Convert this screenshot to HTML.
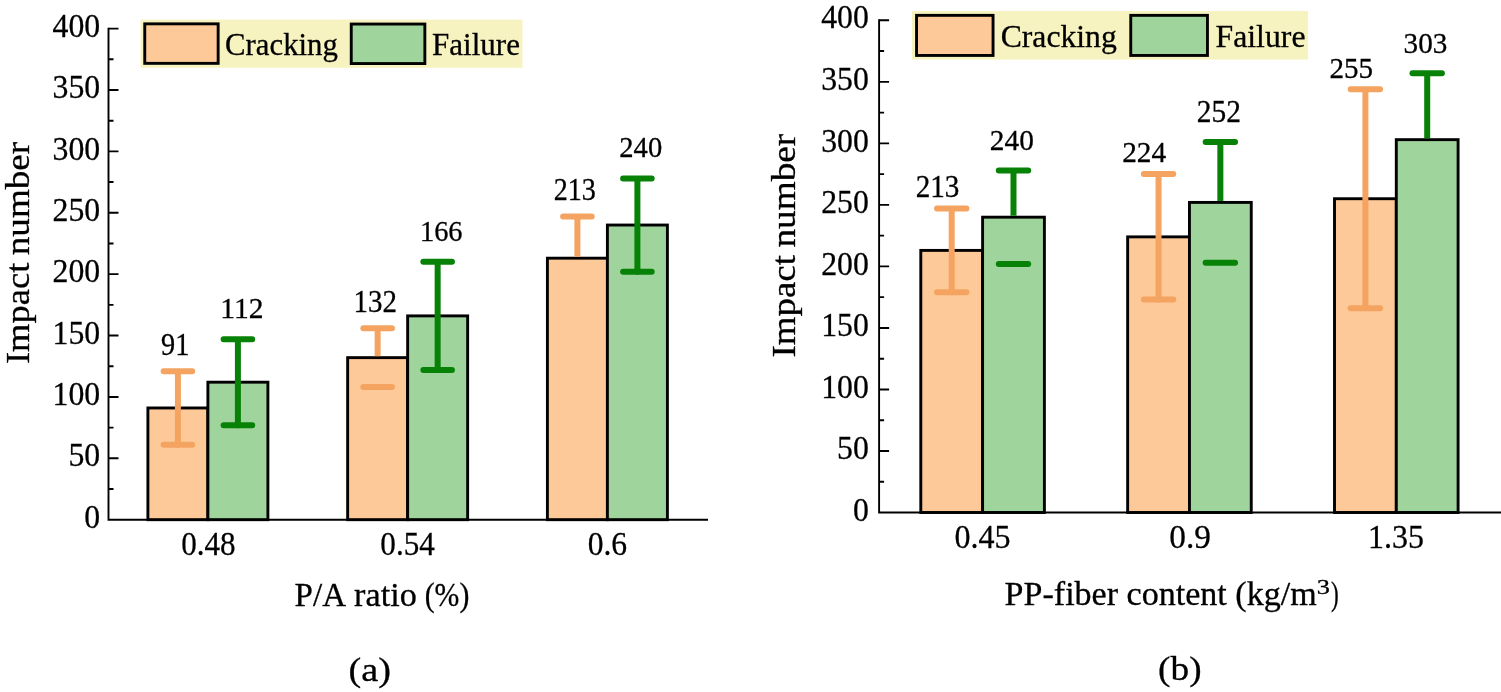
<!DOCTYPE html>
<html><head><meta charset="utf-8"><title>Impact number charts</title>
<style>
html,body{margin:0;padding:0;background:#fff;}
body{width:1501px;height:692px;overflow:hidden;}
svg{display:block;}
text{font-family:"Liberation Serif",serif;fill:#000;white-space:pre;stroke:#000;stroke-width:0.3px;}
</style></head><body>
<svg width="1501" height="692" viewBox="0 0 1501 692">
<rect width="1501" height="692" fill="#fff"/>
<rect x="147.90" y="407.97" width="60.00" height="111.73" fill="#FDC998" stroke="#000" stroke-width="2.9"/>
<path d="M163.60 371.14H192.20M177.90 371.14V444.81" stroke="#F4A460" stroke-width="6.0" stroke-linecap="round" fill="none"/>
<path d="M163.60 444.81H192.20" stroke="#F4A460" stroke-width="6.0" stroke-linecap="round" fill="none"/>
<rect x="207.90" y="382.19" width="60.00" height="137.51" fill="#9FD59D" stroke="#000" stroke-width="2.9"/>
<path d="M223.60 339.22H252.20M237.90 339.22V425.16" stroke="#078207" stroke-width="6.0" stroke-linecap="round" fill="none"/>
<path d="M223.60 425.16H252.20" stroke="#078207" stroke-width="6.0" stroke-linecap="round" fill="none"/>
<rect x="347.65" y="357.64" width="60.00" height="162.06" fill="#FDC998" stroke="#000" stroke-width="2.9"/>
<path d="M377.65 328.17V356.19" stroke="#F4A460" stroke-width="6.0" stroke-linecap="butt" fill="none"/><path d="M363.35 328.17H391.95" stroke="#F4A460" stroke-width="6.0" stroke-linecap="round" fill="none"/>
<path d="M363.35 387.10H391.95" stroke="#F4A460" stroke-width="6.0" stroke-linecap="round" fill="none"/>
<rect x="407.65" y="315.89" width="60.00" height="203.81" fill="#9FD59D" stroke="#000" stroke-width="2.9"/>
<path d="M423.35 261.87H451.95M437.65 261.87V369.91" stroke="#078207" stroke-width="6.0" stroke-linecap="round" fill="none"/>
<path d="M423.35 369.91H451.95" stroke="#078207" stroke-width="6.0" stroke-linecap="round" fill="none"/>
<rect x="547.40" y="258.19" width="60.00" height="261.51" fill="#FDC998" stroke="#000" stroke-width="2.9"/>
<path d="M577.40 216.45V256.74" stroke="#F4A460" stroke-width="6.0" stroke-linecap="butt" fill="none"/><path d="M563.10 216.45H591.70" stroke="#F4A460" stroke-width="6.0" stroke-linecap="round" fill="none"/>
<rect x="607.40" y="225.04" width="60.00" height="294.66" fill="#9FD59D" stroke="#000" stroke-width="2.9"/>
<path d="M623.10 178.39H651.70M637.40 178.39V271.69" stroke="#078207" stroke-width="6.0" stroke-linecap="round" fill="none"/>
<path d="M623.10 271.69H651.70" stroke="#078207" stroke-width="6.0" stroke-linecap="round" fill="none"/>
<path d="M108.50 27.65V519.70H708.00" stroke="#000" stroke-width="1.9" fill="none" stroke-linejoin="miter"/>
<path d="M108.50 489.01h5M108.50 458.31h10M108.50 427.62h5M108.50 396.93h10M108.50 366.23h5M108.50 335.54h10M108.50 304.84h5M108.50 274.15h10M108.50 243.46h5M108.50 212.76h10M108.50 182.07h5M108.50 151.38h10M108.50 120.68h5M108.50 89.99h10M108.50 59.29h5M108.50 28.60h10" stroke="#000" stroke-width="1.9" fill="none"/>
<rect x="920.80" y="250.40" width="61.80" height="262.10" fill="#FDC998" stroke="#000" stroke-width="2.9"/>
<path d="M937.00 208.57H966.40M951.70 208.57V292.24" stroke="#F4A460" stroke-width="6.0" stroke-linecap="round" fill="none"/>
<path d="M937.00 292.24H966.40" stroke="#F4A460" stroke-width="6.0" stroke-linecap="round" fill="none"/>
<rect x="982.60" y="217.18" width="61.80" height="295.32" fill="#9FD59D" stroke="#000" stroke-width="2.9"/>
<path d="M1013.50 170.42V215.73" stroke="#078207" stroke-width="6.0" stroke-linecap="butt" fill="none"/><path d="M998.80 170.42H1028.20" stroke="#078207" stroke-width="6.0" stroke-linecap="round" fill="none"/>
<path d="M998.80 263.94H1028.20" stroke="#078207" stroke-width="6.0" stroke-linecap="round" fill="none"/>
<rect x="1127.65" y="236.87" width="61.80" height="275.63" fill="#FDC998" stroke="#000" stroke-width="2.9"/>
<path d="M1143.85 174.11H1173.25M1158.55 174.11V299.62" stroke="#F4A460" stroke-width="6.0" stroke-linecap="round" fill="none"/>
<path d="M1143.85 299.62H1173.25" stroke="#F4A460" stroke-width="6.0" stroke-linecap="round" fill="none"/>
<rect x="1189.45" y="202.41" width="61.80" height="310.09" fill="#9FD59D" stroke="#000" stroke-width="2.9"/>
<path d="M1220.35 142.12V200.96" stroke="#078207" stroke-width="6.0" stroke-linecap="butt" fill="none"/><path d="M1205.65 142.12H1235.05" stroke="#078207" stroke-width="6.0" stroke-linecap="round" fill="none"/>
<path d="M1205.65 262.71H1235.05" stroke="#078207" stroke-width="6.0" stroke-linecap="round" fill="none"/>
<rect x="1334.50" y="198.72" width="61.80" height="313.78" fill="#FDC998" stroke="#000" stroke-width="2.9"/>
<path d="M1350.70 89.21H1380.10M1365.40 89.21V308.24" stroke="#F4A460" stroke-width="6.0" stroke-linecap="round" fill="none"/>
<path d="M1350.70 308.24H1380.10" stroke="#F4A460" stroke-width="6.0" stroke-linecap="round" fill="none"/>
<rect x="1396.30" y="139.66" width="61.80" height="372.84" fill="#9FD59D" stroke="#000" stroke-width="2.9"/>
<path d="M1427.20 73.21V138.21" stroke="#078207" stroke-width="6.0" stroke-linecap="butt" fill="none"/><path d="M1412.50 73.21H1441.90" stroke="#078207" stroke-width="6.0" stroke-linecap="round" fill="none"/>
<path d="M879.10 19.35V512.50H1501.00" stroke="#000" stroke-width="1.9" fill="none" stroke-linejoin="miter"/>
<path d="M879.10 481.74h5M879.10 450.98h10M879.10 420.21h5M879.10 389.45h10M879.10 358.69h5M879.10 327.93h10M879.10 297.16h5M879.10 266.40h10M879.10 235.64h5M879.10 204.88h10M879.10 174.11h5M879.10 143.35h10M879.10 112.59h5M879.10 81.83h10M879.10 51.06h5M879.10 20.30h10" stroke="#000" stroke-width="1.9" fill="none"/>
<rect x="140.5" y="19.6" width="382.00" height="48.20" fill="#F7F3C0"/>
<rect x="144.75" y="23.85" width="73.40" height="39.50" fill="#FDC998" stroke="#000" stroke-width="2.9"/>
<rect x="351.25" y="24.05" width="73.60" height="39.50" fill="#9FD59D" stroke="#000" stroke-width="2.9"/>
<rect x="912.0" y="11.0" width="396.10" height="48.60" fill="#F7F3C0"/>
<rect x="916.55" y="15.35" width="76.50" height="40.10" fill="#FDC998" stroke="#000" stroke-width="2.9"/>
<rect x="1130.75" y="15.35" width="76.70" height="40.10" fill="#9FD59D" stroke="#000" stroke-width="2.9"/>
<text transform="translate(84.29 527.85) scale(0.9150 1)" font-size="34.7">0</text>
<text transform="translate(68.42 466.46) scale(0.9150 1)" font-size="34.7">50</text>
<text transform="translate(52.54 405.08) scale(0.9150 1)" font-size="34.7">100</text>
<text transform="translate(52.54 343.69) scale(0.9150 1)" font-size="34.7">150</text>
<text transform="translate(52.54 282.30) scale(0.9150 1)" font-size="34.7">200</text>
<text transform="translate(52.54 220.91) scale(0.9150 1)" font-size="34.7">250</text>
<text transform="translate(52.54 159.53) scale(0.9150 1)" font-size="34.7">300</text>
<text transform="translate(52.54 98.14) scale(0.9150 1)" font-size="34.7">350</text>
<text transform="translate(52.54 36.75) scale(0.9150 1)" font-size="34.7">400</text>
<text transform="translate(852.89 520.65) scale(0.9150 1)" font-size="34.7">0</text>
<text transform="translate(837.02 459.12) scale(0.9150 1)" font-size="34.7">50</text>
<text transform="translate(821.14 397.60) scale(0.9150 1)" font-size="34.7">100</text>
<text transform="translate(821.14 336.07) scale(0.9150 1)" font-size="34.7">150</text>
<text transform="translate(821.14 274.55) scale(0.9150 1)" font-size="34.7">200</text>
<text transform="translate(821.14 213.03) scale(0.9150 1)" font-size="34.7">250</text>
<text transform="translate(821.14 151.50) scale(0.9150 1)" font-size="34.7">300</text>
<text transform="translate(821.14 89.98) scale(0.9150 1)" font-size="34.7">350</text>
<text transform="translate(821.14 28.45) scale(0.9150 1)" font-size="34.7">400</text>
<text transform="translate(225.07 55.00) scale(0.9869 1)" font-size="31.2">Cracking</text>
<text transform="translate(432.07 55.00) scale(0.9951 1)" font-size="31.2">Failure</text>
<text transform="translate(1000.63 47.00) scale(1.0162 1)" font-size="31.2">Cracking</text>
<text transform="translate(1215.55 47.00) scale(1.0182 1)" font-size="31.2">Failure</text>
<text transform="translate(161.08 354.70) scale(0.9274 1)" font-size="30.5">91</text>
<text transform="translate(220.24 317.70) scale(0.9700 1)" font-size="30.5">112</text>
<text transform="translate(353.60 311.70) scale(0.9484 1)" font-size="30.5">132</text>
<text transform="translate(419.95 240.50) scale(0.9312 1)" font-size="30.5">166</text>
<text transform="translate(553.74 199.90) scale(0.9217 1)" font-size="30.5">213</text>
<text transform="translate(619.33 156.50) scale(0.9376 1)" font-size="30.5">240</text>
<text transform="translate(915.72 196.90) scale(0.9556 1)" font-size="30.5">213</text>
<text transform="translate(989.81 150.20) scale(0.9624 1)" font-size="30.5">240</text>
<text transform="translate(1122.22 162.30) scale(0.9612 1)" font-size="30.5">224</text>
<text transform="translate(1196.80 122.10) scale(0.9636 1)" font-size="30.5">252</text>
<text transform="translate(1329.52 77.60) scale(0.9534 1)" font-size="30.5">255</text>
<text transform="translate(1403.57 53.20) scale(0.9567 1)" font-size="30.5">303</text>
<text transform="translate(181.15 555.00) scale(0.8973 1)" font-size="34.7">0.48</text>
<text transform="translate(380.35 555.00) scale(0.8977 1)" font-size="34.7">0.54</text>
<text transform="translate(587.64 555.00) scale(0.9110 1)" font-size="34.7">0.6</text>
<text transform="translate(954.42 547.70) scale(0.9250 1)" font-size="34.7">0.45</text>
<text transform="translate(1169.27 547.70) scale(0.9606 1)" font-size="34.7">0.9</text>
<text transform="translate(1368.02 547.70) scale(0.9233 1)" font-size="34.7">1.35</text>
<text transform="translate(294.61 605.60) scale(0.9918 1)" font-size="33.3">P/A</text>
<text transform="translate(354.12 605.60) scale(1.0269 1)" font-size="33.3">ratio</text>
<text transform="translate(424.66 605.60) scale(0.8945 1)" font-size="33.3">(%)</text>
<text transform="translate(348.48 680.60) scale(1.1482 1)" font-size="33.3">(a)</text>
<text transform="translate(1004.58 604.90) scale(1.0227 1)" font-size="33.3">PP-fiber content (kg/m</text>
<text transform="translate(1316.78 593.80) scale(1.1973 1)" font-size="22.0">3</text>
<text transform="translate(1331.11 604.90) scale(0.6930 1)" font-size="33.3">)</text>
<text transform="translate(1158.12 680.00) scale(1.1202 1)" font-size="33.3">(b)</text>
<text transform="translate(28.60 364.08) rotate(-90) scale(1.0969 1)" font-size="33.3">Impact</text>
<text transform="translate(28.60 255.23) rotate(-90) scale(1.1147 1)" font-size="33.3">number</text>
<text transform="translate(795.30 357.49) rotate(-90) scale(1.1079 1)" font-size="33.3">Impact</text>
<text transform="translate(795.30 247.53) rotate(-90) scale(1.1187 1)" font-size="33.3">number</text>
</svg>
</body></html>
